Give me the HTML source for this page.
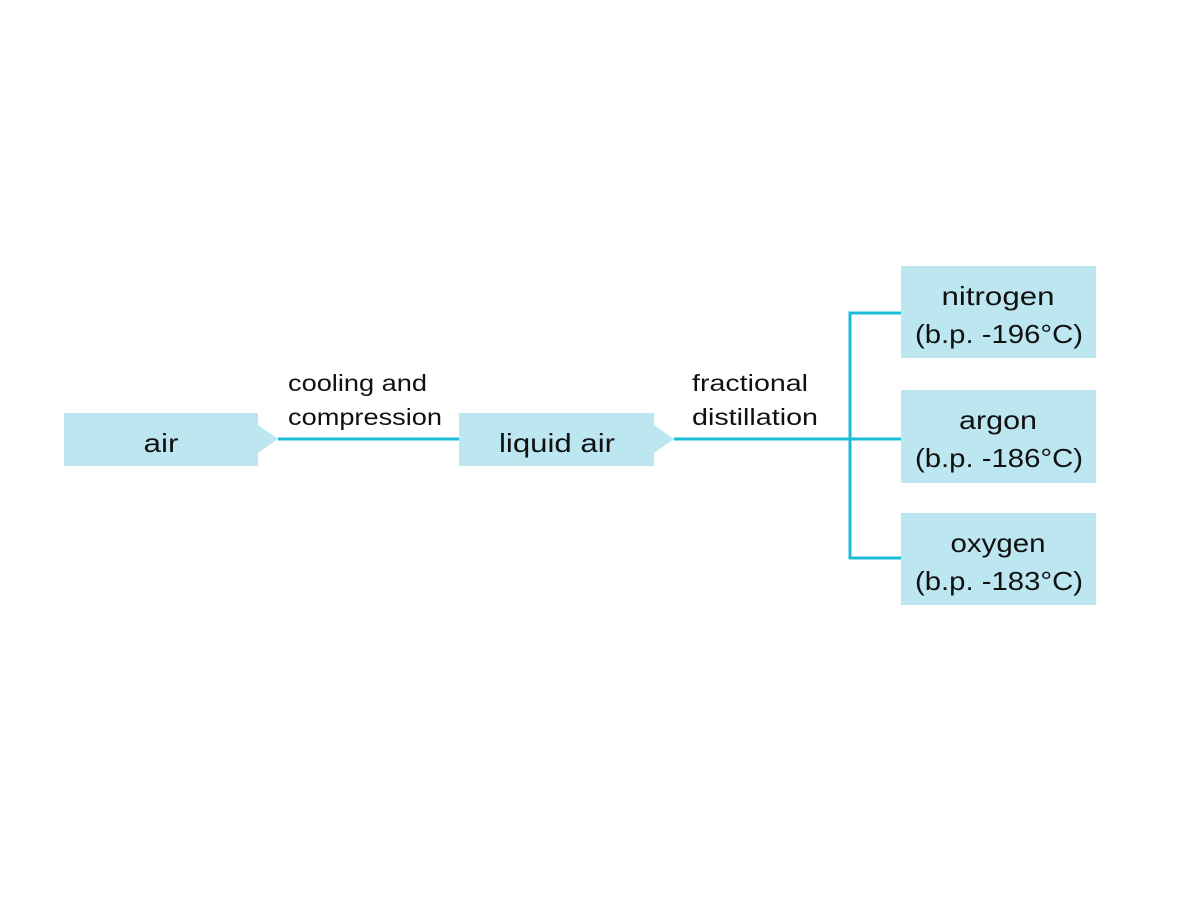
<!DOCTYPE html>
<html><head><meta charset="utf-8"><style>
html,body{margin:0;padding:0;background:#fff;width:1200px;height:900px;overflow:hidden}
svg text{font-family:"Liberation Sans",sans-serif;fill:#111}
</style></head><body>
<svg width="1200" height="900" xmlns="http://www.w3.org/2000/svg">
<g fill="#bde7f0">
<polygon points="64,413 258,413 258,425 278,439 258,453 258,466 64,466"/>
<polygon points="459,413 654,413 654,425 674,439 654,453 654,466 459,466"/>
<rect x="901" y="266" width="195" height="92"/>
<rect x="901" y="390" width="195" height="93"/>
<rect x="901" y="513" width="195" height="92"/>
</g>
<g stroke="#1cbcd8" stroke-width="3" fill="none">
<line x1="278" y1="439" x2="459" y2="439"/>
<line x1="674" y1="439" x2="901" y2="439"/>
<polyline points="901,313 850,313 850,558 901,558"/>
</g>
<g font-size="26" text-anchor="middle" lengthAdjust="spacingAndGlyphs">
<text x="161" y="452" textLength="35" lengthAdjust="spacingAndGlyphs">air</text>
<text x="557" y="452" textLength="116" lengthAdjust="spacingAndGlyphs">liquid air</text>
<text x="998" y="305" textLength="113" lengthAdjust="spacingAndGlyphs">nitrogen</text>
<text x="999" y="343" textLength="168" lengthAdjust="spacingAndGlyphs">(b.p. -196°C)</text>
<text x="998" y="429" textLength="78" lengthAdjust="spacingAndGlyphs">argon</text>
<text x="999" y="467" textLength="168" lengthAdjust="spacingAndGlyphs">(b.p. -186°C)</text>
<text x="998" y="552" textLength="95" lengthAdjust="spacingAndGlyphs">oxygen</text>
<text x="999" y="590" textLength="168" lengthAdjust="spacingAndGlyphs">(b.p. -183°C)</text>
</g>
<g font-size="23">
<text x="288" y="391" textLength="139" lengthAdjust="spacingAndGlyphs">cooling and</text>
<text x="288" y="425" textLength="154" lengthAdjust="spacingAndGlyphs">compression</text>
<text x="692" y="391" textLength="116" lengthAdjust="spacingAndGlyphs">fractional</text>
<text x="692" y="425" textLength="126" lengthAdjust="spacingAndGlyphs">distillation</text>
</g>
</svg>
</body></html>
